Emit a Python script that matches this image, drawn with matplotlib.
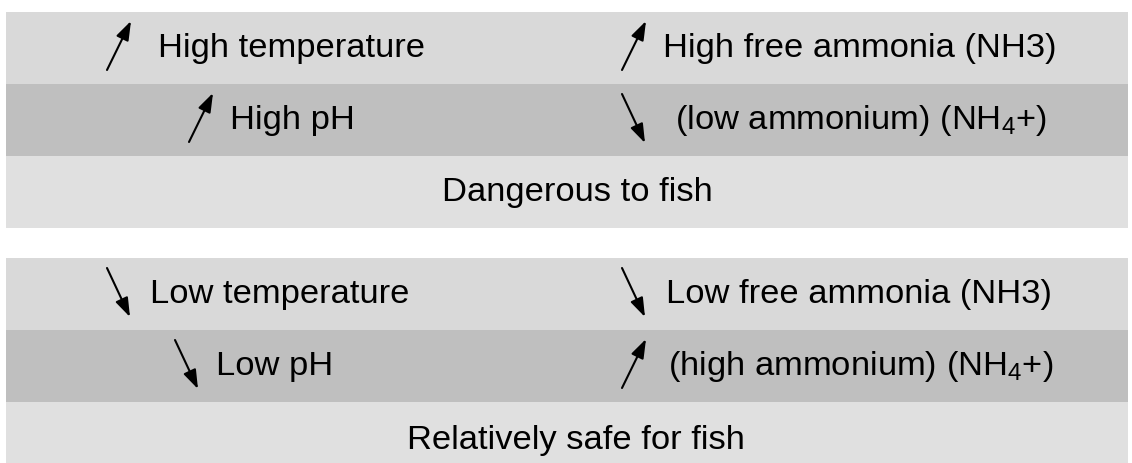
import matplotlib
matplotlib.use("Agg")
from matplotlib import pyplot as plt
from matplotlib.patches import Rectangle

plt.rcParams['font.family'] = ['Liberation Sans', 'DejaVu Sans']
plt.rcParams['mathtext.fontset'] = 'custom'
plt.rcParams['mathtext.rm'] = 'Liberation Sans'
plt.rcParams['mathtext.it'] = 'Liberation Sans'

# diagram content
conclusions = ["Dangerous to fish", "Relatively safe for fish"]
left_labels = [["High temperature", "High pH"],
               ["Low temperature", "Low pH"]]
right_labels = [["High free ammonia (NH3)", "(low ammonium) (NH$_4$+)"],
                ["Low free ammonia (NH3)", "(high ammonium) (NH$_4$+)"]]
left_dirs = [["up", "up"], ["down", "down"]]
right_dirs = [["up", "down"], ["down", "up"]]

# layout (pixel units)
W, H = 1132, 463
block_top = [12, 258]
row_h = 72
band_colors = ["#d9d9d9", "#bfbfbf", "#e0e0e0"]
left_text_x = [[158, 230], [150, 216]]
right_text_x = [[663, 675], [666, 668]]
left_arrow_x = [[107, 189], [107, 175]]
right_arrow_x = [[622, 622], [622, 622]]
concl_x = [577, 576]
concl_y_shift = [0, 3]

fig = plt.figure(figsize=(W / 100, H / 100), dpi=100)
ax = fig.add_axes([0, 0, 1, 1])
ax.set_xlim(0, W)
ax.set_ylim(H, 0)
ax.axis("off")


def arrow(x, yc, d):
    if d == "up":
        start, end = (x, yc + 24), (x + 24, yc - 25)
    else:
        start, end = (x, yc - 24), (x + 23, yc + 25)
    ax.annotate("", xy=end, xytext=start,
                arrowprops=dict(arrowstyle="-|>,head_length=1.15,head_width=0.4",
                                lw=1.5, color="black", shrinkA=0, shrinkB=0))


fs = 24.8
for b in range(2):
    top = block_top[b]
    for r in range(3):
        ax.add_patch(Rectangle((6, top + r * row_h), 1122, row_h,
                               facecolor=band_colors[r], edgecolor="none"))
    for r in range(2):
        yc = top + r * row_h + row_h / 2
        arrow(left_arrow_x[b][r], yc - 2, left_dirs[b][r])
        arrow(right_arrow_x[b][r], yc - 2, right_dirs[b][r])
        ax.text(left_text_x[b][r], yc, left_labels[b][r], fontsize=fs,
                ha="left", va="center")
        ax.text(right_text_x[b][r], yc, right_labels[b][r], fontsize=fs,
                ha="left", va="center")
    yc = top + 2 * row_h + row_h / 2 + concl_y_shift[b]
    ax.text(concl_x[b], yc, conclusions[b], fontsize=fs, ha="center", va="center")

plt.savefig("out.png", dpi=100)
